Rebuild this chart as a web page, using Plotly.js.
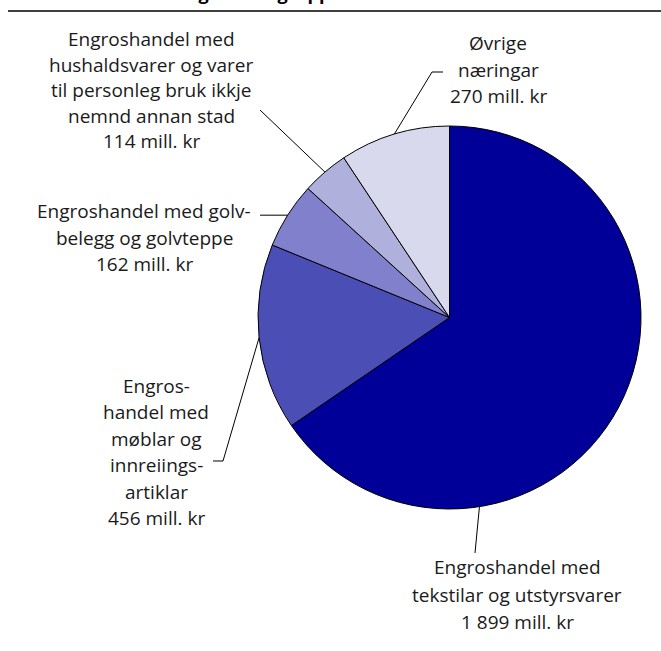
<!DOCTYPE html>
<html><head><meta charset="utf-8">
<script src="https://cdn.plot.ly/plotly-3.0.1.min.js"></script>
<style>html,body{margin:0;padding:0;background:#fff}</style>
</head><body><div id="chart" style="width:661px;height:651px"></div>
<script>
// ---- data ----
const categories = [
  "Engroshandel med tekstilar og utstyrsvarer",
  "Engroshandel med møblar og innreiingsartiklar",
  "Engroshandel med golvbelegg og golvteppe",
  "Engroshandel med hushaldsvarer og varer til personleg bruk ikkje nemnd annan stad",
  "Øvrige næringar"
];
const values = [1899, 456, 162, 114, 270];
const labelLines = [
  ["Engroshandel med", "tekstilar og utstyrsvarer"],
  ["Engros-", "handel med", "møblar og", "innreiings-", "artiklar"],
  ["Engroshandel med golv-", "belegg og golvteppe"],
  ["Engroshandel med", "hushaldsvarer og varer", "til personleg bruk ikkje", "nemnd annan stad"],
  ["Øvrige", "næringar"]
];
const unit = "mill. kr";
const titleText = "Omsetning i undergrupper";
const colors = ["#000099", "#4b4fb5", "#8080cc", "#b0b0dd", "#d9d9ee"];

// ---- layout helpers (pixels) ----
const W = 661, H = 651;
const px = x => x / W, py = y => 1 - y / H;
const pie = {cx: 449.5, cy: 317.5, r: 191.5};
const fmt = v => String(v).replace(/\B(?=(\d{3})+(?!\d))/g, " ");

// label first-line centre, line spacing, leader start points
const labelPos = [
  {x: 517, y0: 567, dy: 27.5, lead: [[475, 553]], angle: 171},
  {x: 156, y0: 386, dy: 26.4, lead: [[213, 461], [223, 461]]},
  {x: 144, y0: 211, dy: 26.5, lead: [[260, null]]},
  {x: 151, y0: 39, dy: 25.6, lead: [[260, 110]]},
  {x: 498, y0: 43, dy: 26.5, lead: [[443, 72], [432, 72]]}
];

const total = values.reduce((a, b) => a + b, 0);
let cum = 0;
const shapes = [];
const annotations = [];
values.forEach((v, i) => {
  const mid = (cum + v / 2) / total * 360;
  cum += v;
  const lp = labelPos[i];
  const a = (lp.angle !== undefined ? lp.angle : mid) * Math.PI / 180;
  const ex = pie.cx + pie.r * Math.sin(a), ey = pie.cy - pie.r * Math.cos(a);
  const pts = lp.lead.map(p => [p[0], p[1] === null ? ey : p[1]]);
  pts.push([ex, ey]);
  const path = pts.map((p, k) => (k ? "L" : "M") + px(p[0]).toFixed(5) + "," + py(p[1]).toFixed(5)).join(" ");
  shapes.push({type: "path", xref: "paper", yref: "paper", path: path, line: {color: "#000", width: 1}});
  const lines = labelLines[i].concat([fmt(v) + " " + unit]);
  lines.forEach((t, k) => {
    annotations.push({
      xref: "paper", yref: "paper", x: px(lp.x), y: py(lp.y0 + k * lp.dy), xanchor: "center", yanchor: "middle",
      showarrow: false, align: "center", text: t,
      font: {family: "Open Sans, sans-serif", size: 19, color: "#1a1a1a"}
    });
  });
});

// cut-off title and rule
annotations.push({
  xref: "paper", yref: "paper", x: px(108), y: py(7), xanchor: "left", yanchor: "bottom",
  showarrow: false, text: "<b>" + titleText + "</b>",
  font: {family: "Open Sans, sans-serif", size: 18, color: "#000"}
});
shapes.push({type: "line", xref: "paper", yref: "paper", x0: px(8), x1: 1, y0: py(11), y1: py(11),
  line: {color: "#000", width: 1.5}});

const trace = {
  type: "pie",
  values: values,
  labels: categories,
  sort: false,
  direction: "clockwise",
  rotation: 0,
  textinfo: "none",
  hoverinfo: "label+value",
  showlegend: false,
  marker: {colors: colors, line: {color: "#000", width: 1}},
  domain: {x: [px(pie.cx - pie.r), px(pie.cx + pie.r)], y: [py(pie.cy + pie.r), py(pie.cy - pie.r)]}
};

Plotly.newPlot("chart", [trace], {
  width: W, height: H,
  margin: {l: 0, r: 0, t: 0, b: 0},
  paper_bgcolor: "#fff",
  showlegend: false,
  shapes: shapes,
  annotations: annotations
}, {displayModeBar: false, staticPlot: true});
</script>
</body></html>
